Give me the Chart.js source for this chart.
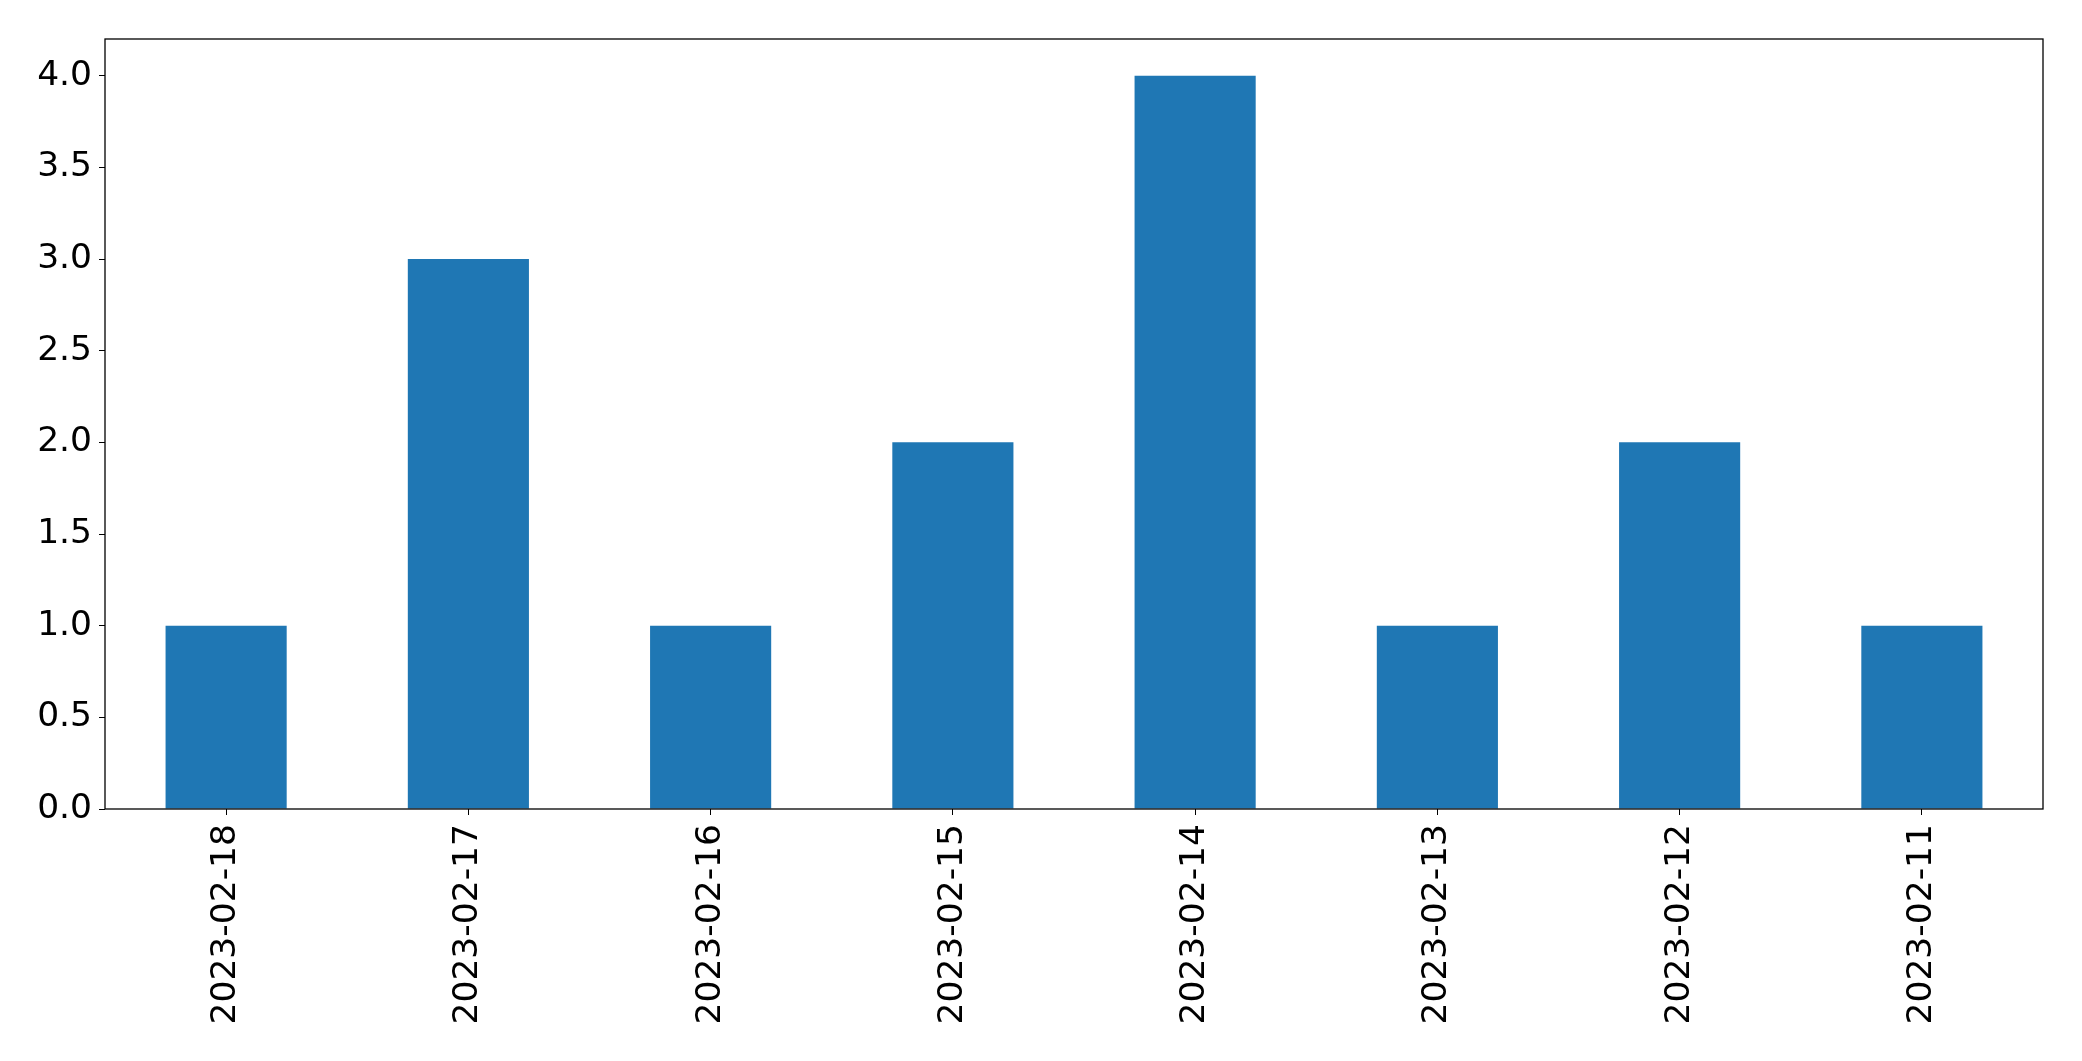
<!DOCTYPE html>
<html>
<head>
<meta charset="utf-8">
<script src="https://cdn.jsdelivr.net/npm/chart.js@4"></script>
<style>
  html, body { margin: 0; padding: 0; background: #fff; }
  canvas { display: block; }
</style>
</head>
<body>
<canvas id="myChart" width="2082" height="1061"></canvas>
<script>
const dates = ['2023-02-18', '2023-02-17', '2023-02-16', '2023-02-15', '2023-02-14', '2023-02-13', '2023-02-12', '2023-02-11'];
const counts = [1, 3, 1, 2, 4, 1, 2, 1];

const ctx = document.getElementById('myChart').getContext('2d');

// matplotlib-style frame around the plot area
const frame = {
  id: 'frame',
  afterDraw(chart) {
    const a = chart.chartArea;
    const c = chart.ctx;
    c.save();
    c.strokeStyle = '#000';
    c.lineWidth = 1.3;
    c.strokeRect(a.left, a.top, a.right - a.left, a.bottom - a.top);
    c.restore();
  }
};

const data = {
  labels: dates,
  datasets: [{
    data: counts,
    backgroundColor: '#1f77b4',
    barPercentage: 0.5,
    categoryPercentage: 1.0
  }]
};

const config = {
  type: 'bar',
  data: data,
  options: {
    responsive: false,
    animation: false,
    layout: { padding: { top: 39, right: 39, left: 0, bottom: 0 } },
    plugins: { legend: { display: false }, tooltip: { enabled: false } },
    scales: {
      x: {
        grid: { offset: false, drawOnChartArea: false, drawTicks: true, tickLength: 6, color: '#000' },
        border: { display: false },
        ticks: {
          color: '#000',
          font: { family: 'DejaVu Sans', size: 34.5 },
          minRotation: 90,
          maxRotation: 90,
          padding: 9
        },
        afterFit(axis) { axis.height = 252; }
      },
      y: {
        min: 0,
        max: 4.2,
        grid: { drawOnChartArea: false, drawTicks: true, tickLength: 6, color: '#000' },
        border: { display: false },
        ticks: {
          stepSize: 0.5,
          includeBounds: false,
          color: '#000',
          font: { family: 'DejaVu Sans', size: 34.5 },
          padding: 7,
          callback: v => v.toFixed(1)
        },
        afterFit(axis) { axis.width = 105; }
      }
    }
  },
  plugins: [frame]
};

const myChart = new Chart(ctx, config);
</script>
</body>
</html>
